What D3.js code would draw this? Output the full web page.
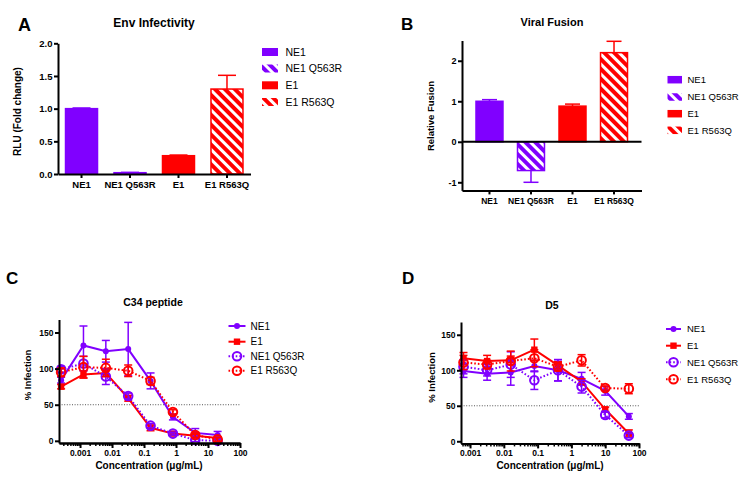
<!DOCTYPE html>
<html><head><meta charset="utf-8">
<script src="https://cdn.jsdelivr.net/npm/d3@7"></script>
<style>
body{margin:0;background:#fff;}
svg text{font-family:"Liberation Sans",Arial,Helvetica,sans-serif;}
</style></head><body>
<svg id="chart" width="750" height="483" xmlns="http://www.w3.org/2000/svg"></svg>
<script>
// ---------- DATA ----------
const barCategories = ["NE1", "NE1 Q563R", "E1", "E1 R563Q"];
const infectivity = [1.00, 0.02, 0.28, 1.30];
const infectivityErr = [0.01, 0.005, 0.01, 0.21];
const infectivityTicks = [0, 0.5, 1.0, 1.5, 2.0];
const fusion = [1.00, -0.71, 0.88, 2.20];
const fusionErr = [0.04, 0.29, 0.05, 0.28];
const fusionTicks = [-1, 0, 1, 2];

const lineSeries = ["NE1", "E1", "NE1 Q563R", "E1 R563Q"];
const c34Conc = [0.000256, 0.00128, 0.0064, 0.032, 0.16, 0.8, 4, 20];
const c34NE1 = [84, 132, 124, 127, 83, 33, 11, 8];
const c34NE1Err = [4, 27, 15, 37, 11, 4, 6, 5];
const c34E1 = [75, 92, 94, 59, 18, 10, 7, 4];
const c34E1Err = [3, 5, 5, 4, 4, 2, 2, 2];
const c34NE1mut = [99, 107, 89, 62, 21, 10, 1, 0];
const c34NE1mutErr = [4, 10, 11, 4, 3, 2, 2, 2];
const c34E1mut = [95, 102, 101, 97, 83, 40, 8, 2];
const c34E1mutErr = [6, 15, 12, 8, 5, 3, 3, 3];

const d5Conc = [0.00064, 0.0032, 0.016, 0.08, 0.4, 2, 10, 50];
const d5NE1 = [99, 95, 97, 106, 100, 88, 71, 35];
const d5NE1Err = [9, 9, 18, 8, 15, 9, 6, 4];
const d5E1 = [117, 113, 114, 129, 107, 84, 45, 11];
const d5E1Err = [8, 8, 6, 15, 5, 4, 3, 5];
const d5NE1mut = [105, 100, 108, 86, 100, 77, 37, 8];
const d5NE1mutErr = [10, 8, 18, 13, 15, 9, 4, 3];
const d5E1mut = [111, 108, 113, 117, 105, 114, 75, 74];
const d5E1mutErr = [10, 6, 14, 12, 6, 8, 3, 7];

const pctTicks = [0, 50, 100, 150];
const logMajorTicks = [0.001, 0.01, 0.1, 1, 10, 100];
const logTickLabels = ["0.001", "0.01", "0.1", "1", "10", "100"];

// ---------- STYLE ----------
const PURPLE = "#8000ff", RED = "#ff0000";
const barColors = [PURPLE, PURPLE, RED, RED];
const barHatched = [false, true, false, true];
const seriesColors = [PURPLE, RED, PURPLE, RED];
const seriesMarkers = ["dot", "square", "open", "open"];
const seriesDotted = [false, false, true, true];

const svg = d3.select("#chart");
svg.append("rect").attr("width", 750).attr("height", 483).attr("fill", "#fff");
const defs = svg.append("defs");
function hatch(id, color) {
  const p = defs.append("pattern").attr("id", id).attr("patternUnits", "userSpaceOnUse")
    .attr("width", 7).attr("height", 7).attr("patternTransform", "rotate(-45)");
  p.append("rect").attr("width", 7).attr("height", 7).attr("fill", color);
  p.append("rect").attr("width", 3).attr("height", 7).attr("fill", "#fff");
}
hatch("hatchPurple", PURPLE);
hatch("hatchRed", RED);
function barFill(i) {
  if (!barHatched[i]) return barColors[i];
  return barColors[i] === RED ? "url(#hatchRed)" : "url(#hatchPurple)";
}

function styleAxis(g, fs) {
  g.select(".domain").attr("stroke", "#000").attr("stroke-width", 2);
  g.selectAll(".tick line").attr("stroke", "#000").attr("stroke-width", 2);
  g.selectAll(".tick text").attr("fill", "#000").attr("font-size", fs).attr("font-weight", "bold")
    .attr("font-family", "Liberation Sans, Arial, sans-serif");
}

function label(txt, x, y, size, opts = {}) {
  const t = svg.append("text").attr("x", x).attr("y", y).attr("font-size", size)
    .attr("font-weight", opts.bold === false ? "normal" : "bold")
    .attr("text-anchor", opts.anchor || "middle").attr("fill", "#000").text(txt);
  if (opts.rotate) t.attr("transform", `rotate(-90,${x},${y})`).attr("dy", "0.35em");
  return t;
}

// ---------- BAR PANELS ----------
function barPanel(cfg) {
  const x = d3.scaleBand().domain(barCategories).range([cfg.x0, cfg.x1])
    .paddingInner(cfg.pi).paddingOuter(cfg.po);
  const y = d3.scaleLinear().domain(cfg.ydom).range([cfg.yb, cfg.yt]);
  const g = svg.append("g");
  const bw = x.bandwidth();
  cfg.values.forEach((v, i) => {
    const cx = x(barCategories[i]);
    const top = Math.min(y(v), y(0)), h = Math.abs(y(v) - y(0));
    const e = v >= 0 ? v + cfg.errs[i] : v - cfg.errs[i];
    const ey = y(e), vy = y(v);
    g.append("line").attr("x1", cx + bw / 2).attr("x2", cx + bw / 2).attr("y1", vy).attr("y2", ey)
      .attr("stroke", barColors[i]).attr("stroke-width", 1.5);
    g.append("line").attr("x1", cx + bw / 2 - cfg.cap / 2).attr("x2", cx + bw / 2 + cfg.cap / 2)
      .attr("y1", ey).attr("y2", ey).attr("stroke", barColors[i]).attr("stroke-width", 1.5);
    g.append("rect").attr("x", cx).attr("y", top).attr("width", bw).attr("height", Math.max(h, 1))
      .attr("fill", barFill(i)).attr("stroke", barColors[i]).attr("stroke-width", 1.5);
  });
  const ya = svg.append("g").attr("transform", `translate(${cfg.x0},0)`)
    .call(d3.axisLeft(y).tickValues(cfg.ticks).tickFormat(cfg.fmt).tickSize(4).tickSizeOuter(0).tickPadding(1.5));
  styleAxis(ya, cfg.tickFs);
  const xa = svg.append("g").attr("transform", `translate(0,${cfg.yb})`)
    .call(d3.axisBottom(x).tickSize(4).tickSizeOuter(0).tickPadding(cfg.xpad));
  styleAxis(xa, cfg.catFs);
  if (cfg.zeroLine) {
    svg.append("line").attr("x1", cfg.x0).attr("x2", cfg.x1).attr("y1", y(0)).attr("y2", y(0))
      .attr("stroke", "#000").attr("stroke-width", 2);
  }
  barCategories.forEach((c, i) => {
    const ly = cfg.legY[i];
    svg.append("rect").attr("x", cfg.legX).attr("y", ly - cfg.legH / 2).attr("width", cfg.legW).attr("height", cfg.legH)
      .attr("fill", barFill(i));
    svg.append("text").attr("x", cfg.legTX).attr("y", ly).attr("dy", "0.36em").attr("font-size", cfg.legFs)
      .attr("fill", "#000").text(c);
  });
}

barPanel({
  x0: 58, x1: 250.5, pi: 0.34, po: 0.155, ydom: [0, 2], yb: 174, yt: 43.3,
  values: infectivity, errs: infectivityErr, ticks: infectivityTicks, fmt: d3.format(".1f"),
  tickFs: 9.5, catFs: 9.5, xpad: 3.5, cap: 18, zeroLine: false,
  legX: 262, legW: 16, legH: 8, legTX: 285.5, legFs: 10.5, legY: [52, 68.5, 85.3, 102]
});
barPanel({
  x0: 462, x1: 641.5, pi: 0.35, po: 0.337, ydom: [-1.2, 2.5], yb: 190.4, yt: 40.5,
  values: fusion, errs: fusionErr, ticks: fusionTicks, fmt: d => String(d),
  tickFs: 9, catFs: 8.5, xpad: 4, cap: 15, zeroLine: true,
  legX: 667.5, legW: 14.5, legH: 7.5, legTX: 687.5, legFs: 9.5, legY: [79.7, 97, 113.7, 130.3]
});

label("Env Infectivity", 154, 27, 12);
label("Viral Fusion", 552, 26, 11);
label("RLU (Fold change)", 17, 111.5, 10, { rotate: true });
label("Relative Fusion", 431, 116, 9.5, { rotate: true });

// ---------- LINE PANELS ----------
function marker(g, kind, color, cx, cy) {
  if (kind === "dot") g.append("circle").attr("cx", cx).attr("cy", cy).attr("r", 3).attr("fill", color);
  else if (kind === "square") g.append("rect").attr("x", cx - 3.2).attr("y", cy - 3.2).attr("width", 6.4).attr("height", 6.4).attr("fill", color);
  else g.append("circle").attr("cx", cx).attr("cy", cy).attr("r", 4.3).attr("fill", "none").attr("stroke", color).attr("stroke-width", 2);
}

function linePanel(cfg) {
  const x = d3.scaleLog().domain(cfg.xdom).range([cfg.x0, cfg.x1]);
  const y = d3.scaleLinear().domain([-3, 168]).range([cfg.yb, cfg.yt]);
  svg.append("line").attr("x1", cfg.x0).attr("x2", cfg.x1).attr("y1", y(50)).attr("y2", y(50))
    .attr("stroke", "#555").attr("stroke-width", 1).attr("stroke-dasharray", "1,1.6");
  const g = svg.append("g");
  cfg.series.forEach((s, k) => {
    const color = seriesColors[k];
    const line = d3.line().x((d, i) => x(cfg.conc[i])).y(d => y(d));
    g.append("path").datum(s.v).attr("d", line).attr("fill", "none").attr("stroke", color)
      .attr("stroke-width", 2).attr("stroke-dasharray", seriesDotted[k] ? "1.6,2" : null);
    s.v.forEach((v, i) => {
      const cx = x(cfg.conc[i]);
      const y1 = y(v + s.e[i]), y2 = y(Math.max(v - s.e[i], -3));
      g.append("line").attr("x1", cx).attr("x2", cx).attr("y1", y1).attr("y2", y2).attr("stroke", color).attr("stroke-width", 1.5);
      [y1, y2].forEach(yy => g.append("line").attr("x1", cx - 4).attr("x2", cx + 4).attr("y1", yy).attr("y2", yy)
        .attr("stroke", color).attr("stroke-width", 1.5));
    });
    s.v.forEach((v, i) => marker(g, seriesMarkers[k], color, x(cfg.conc[i]), y(v)));
  });
  const ya = svg.append("g").attr("transform", `translate(${cfg.x0},0)`)
    .call(d3.axisLeft(y).tickValues(pctTicks).tickSize(4).tickSizeOuter(0).tickPadding(1.5));
  styleAxis(ya, 8.5);
  const minors = [];
  for (let k = -5; k <= 2; k++) for (let m = 2; m <= 9; m++) {
    const v = m * Math.pow(10, k);
    if (v >= cfg.xdom[0] && v <= cfg.xdom[1]) minors.push(v);
  }
  const xm = svg.append("g").attr("transform", `translate(0,${cfg.yb})`)
    .call(d3.axisBottom(x).tickValues(minors).tickSize(3).tickFormat("").tickSizeOuter(0));
  styleAxis(xm, 8.5);
  xm.selectAll(".tick line").attr("stroke-width", 1.5);
  const xa = svg.append("g").attr("transform", `translate(0,${cfg.yb})`)
    .call(d3.axisBottom(x).tickValues(logMajorTicks).tickFormat((d, i) => logTickLabels[i]).tickSize(5).tickSizeOuter(0).tickPadding(2));
  styleAxis(xa, 8.5);
  lineSeries.forEach((name, k) => {
    const ly = cfg.legY[k], color = seriesColors[k];
    svg.append("line").attr("x1", cfg.legX0).attr("x2", cfg.legX1).attr("y1", ly).attr("y2", ly)
      .attr("stroke", color).attr("stroke-width", 2).attr("stroke-dasharray", seriesDotted[k] ? "1.6,2" : null);
    marker(svg, seriesMarkers[k], color, (cfg.legX0 + cfg.legX1) / 2, ly);
    svg.append("text").attr("x", cfg.legTX).attr("y", ly).attr("dy", "0.36em").attr("font-size", cfg.legFs)
      .attr("fill", "#000").text(name);
  });
}

linePanel({
  xdom: [0.00022, 100], x0: 59, x1: 240, yb: 443, yt: 319.5, conc: c34Conc,
  series: [{ v: c34NE1, e: c34NE1Err }, { v: c34E1, e: c34E1Err }, { v: c34NE1mut, e: c34NE1mutErr }, { v: c34E1mut, e: c34E1mutErr }],
  legX0: 228.5, legX1: 245.5, legTX: 250.5, legFs: 10, legY: [326, 341.7, 356.3, 370.7]
});
linePanel({
  xdom: [0.00054, 100], x0: 461, x1: 639, yb: 443.4, yt: 322, conc: d5Conc,
  series: [{ v: d5NE1, e: d5NE1Err }, { v: d5E1, e: d5E1Err }, { v: d5NE1mut, e: d5NE1mutErr }, { v: d5E1mut, e: d5E1mutErr }],
  legX0: 666, legX1: 681, legTX: 687, legFs: 9.5, legY: [329, 345.7, 362.3, 379.3]
});

label("C34 peptide", 153, 305.5, 10.5);
label("D5", 552, 309, 10.5);
label("% Infection", 27.5, 375, 9.5, { rotate: true });
label("% Infection", 431.7, 377.5, 9.5, { rotate: true });
label("Concentration (μg/mL)", 149, 469, 10);
label("Concentration (μg/mL)", 550, 469, 10);

// panel letters
label("A", 18, 31, 18, { anchor: "start" });
label("B", 401, 30, 17, { anchor: "start" });
label("C", 6, 284, 17, { anchor: "start" });
label("D", 402, 284, 17, { anchor: "start" });
</script>
</body></html>
